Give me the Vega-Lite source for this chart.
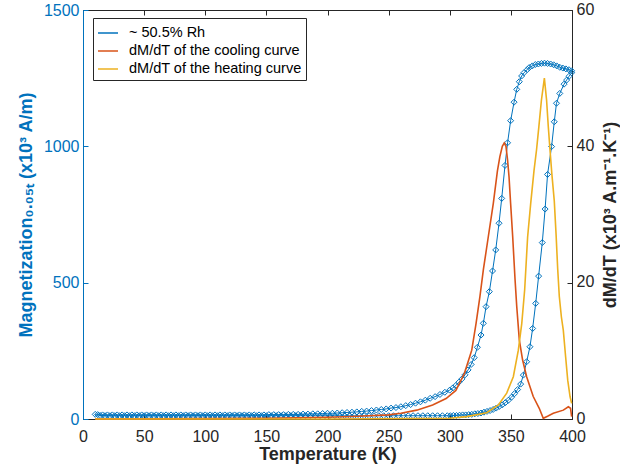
{
  "$schema": "https://vega.github.io/schema/vega-lite/v6.json",
  "width": 489,
  "height": 409,
  "autosize": {"type": "none"},
  "padding": {"left": 83, "top": 10, "right": 48, "bottom": 47},
  "config": {
    "font": "Liberation Sans",
    "view": {"stroke": "#262626", "strokeWidth": 1},
    "axis": {
      "labelFont": "Liberation Sans",
      "titleFont": "Liberation Sans",
      "labelFontSize": 16,
      "titleFontSize": 18,
      "titleFontWeight": "bold",
      "grid": false,
      "tickSize": -5,
      "labelPadding": 9,
      "labelFlush": false,
      "format": "d",
      "domainColor": "#262626",
      "tickColor": "#262626",
      "labelColor": "#262626",
      "titleColor": "#262626"
    }
  },
  "datasets": {
    "mag": [
      {"T":10,"M":17,"o":10},{"T":14,"M":13,"o":14},{"T":18,"M":12,"o":18},{"T":22,"M":12,"o":22},{"T":26,"M":12,"o":26},{"T":30,"M":12,"o":30},{"T":34,"M":12,"o":34},{"T":38,"M":12,"o":38},{"T":42,"M":12,"o":42},{"T":46,"M":12,"o":46},{"T":50,"M":12,"o":50},{"T":54,"M":12,"o":54},{"T":58,"M":12,"o":58},{"T":62,"M":12,"o":62},{"T":66,"M":12,"o":66},{"T":70,"M":12,"o":70},{"T":74,"M":12,"o":74},{"T":78,"M":12,"o":78},{"T":82,"M":12,"o":82},{"T":86,"M":12,"o":86},{"T":90,"M":12,"o":90},{"T":94,"M":12,"o":94},{"T":98,"M":12,"o":98},{"T":102,"M":12,"o":102},{"T":106,"M":12,"o":106},{"T":110,"M":12,"o":110},{"T":114,"M":12,"o":114},{"T":118,"M":12,"o":118},{"T":122,"M":12,"o":122},{"T":126,"M":12,"o":126},{"T":130,"M":12,"o":130},{"T":134,"M":12,"o":134},{"T":138,"M":12,"o":138},{"T":142,"M":12,"o":142},{"T":146,"M":12,"o":146},{"T":150,"M":12,"o":150},{"T":154,"M":12,"o":154},{"T":158,"M":12,"o":158},{"T":162,"M":12,"o":162},{"T":166,"M":12,"o":166},{"T":170,"M":12,"o":170},{"T":174,"M":12,"o":174},{"T":178,"M":12,"o":178},{"T":182,"M":12,"o":182},{"T":186,"M":12,"o":186},{"T":190,"M":12,"o":190},{"T":194,"M":12,"o":194},{"T":198,"M":12,"o":198},{"T":202,"M":12,"o":202},{"T":206,"M":12,"o":206},{"T":210,"M":12,"o":210},{"T":214,"M":12,"o":214},{"T":218,"M":12,"o":218},{"T":222,"M":12,"o":222},{"T":226,"M":12,"o":226},{"T":230,"M":12,"o":230},{"T":234,"M":12,"o":234},{"T":238,"M":12,"o":238},{"T":242,"M":12,"o":242},{"T":246,"M":12,"o":246},{"T":250,"M":12,"o":250},{"T":254,"M":12,"o":254},{"T":258,"M":12,"o":258},{"T":262,"M":12,"o":262},{"T":266,"M":12,"o":266},{"T":270,"M":12,"o":270},{"T":274,"M":12,"o":274},{"T":278,"M":12,"o":278},{"T":282,"M":12,"o":282},{"T":286,"M":12,"o":286},{"T":290,"M":12,"o":290},{"T":294,"M":12,"o":294},{"T":298,"M":12,"o":298},
      {"T":300.5,"M":12,"o":300.5},{"T":303,"M":13,"o":303},{"T":305.5,"M":13,"o":305.5},{"T":308,"M":14,"o":308},{"T":310.5,"M":15,"o":310.5},{"T":313,"M":15,"o":313},{"T":315.5,"M":16,"o":315.5},{"T":318,"M":17,"o":318},{"T":320.5,"M":19,"o":320.5},{"T":323,"M":20,"o":323},{"T":325.5,"M":22,"o":325.5},{"T":328,"M":25,"o":328},{"T":330.5,"M":28,"o":330.5},{"T":333,"M":31,"o":333},{"T":335.5,"M":35,"o":335.5},{"T":338,"M":40,"o":338},{"T":340.5,"M":46,"o":340.5},{"T":343,"M":52,"o":343},{"T":345.5,"M":60,"o":345.5},{"T":348,"M":69,"o":348},{"T":350.5,"M":80,"o":350.5},{"T":353,"M":93,"o":353},{"T":355.5,"M":108,"o":355.5},{"T":358,"M":128,"o":358},{"T":360.2,"M":161,"o":360.2},{"T":362.9,"M":210,"o":362.9},{"T":365.6,"M":265,"o":365.6},{"T":367.8,"M":332,"o":367.8},{"T":370.3,"M":424,"o":370.3},{"T":372.7,"M":524,"o":372.7},{"T":375.7,"M":647,"o":375.7},{"T":378,"M":770,"o":378},{"T":380,"M":897,"o":380},{"T":383.3,"M":999,"o":383.3},{"T":385.5,"M":1090,"o":385.5},{"T":387.3,"M":1158,"o":387.3},{"T":390,"M":1194,"o":390},{"T":393.5,"M":1228,"o":393.5},{"T":395.6,"M":1243,"o":395.6},{"T":397.6,"M":1257,"o":397.6},{"T":399.7,"M":1270,"o":399.7},
      {"T":399.7,"M":1277,"o":401},{"T":397.5,"M":1281,"o":403.5},{"T":395,"M":1284,"o":406},{"T":392.5,"M":1287,"o":408.5},{"T":390,"M":1290,"o":411},{"T":387.5,"M":1295,"o":413.5},{"T":385,"M":1299,"o":416},{"T":382.5,"M":1302,"o":418.5},{"T":380,"M":1304,"o":421},{"T":377.5,"M":1305,"o":423.5},{"T":375,"M":1304,"o":426},{"T":372.5,"M":1302,"o":428.5},{"T":370,"M":1300,"o":431},{"T":367.5,"M":1295,"o":433.5},{"T":365,"M":1289,"o":436},{"T":363.5,"M":1282,"o":437.5},{"T":360.7,"M":1270,"o":440.3},{"T":358.8,"M":1258,"o":442.2},{"T":356.9,"M":1237,"o":444.1},{"T":354.8,"M":1209,"o":446.2},{"T":352.6,"M":1162,"o":448.4},{"T":349.8,"M":1094,"o":451.2},{"T":347.3,"M":1013,"o":453.7},{"T":345.2,"M":930,"o":455.8},{"T":342.5,"M":809,"o":458.5},{"T":340.3,"M":718,"o":460.7},{"T":337.6,"M":620,"o":463.4},{"T":335,"M":543,"o":466},{"T":332.4,"M":467,"o":468.6},{"T":329.7,"M":412,"o":471.3},{"T":327.5,"M":351,"o":473.5},{"T":325.6,"M":308,"o":475.4},{"T":322.6,"M":263,"o":478.4},{"T":320,"M":225,"o":481},{"T":317.5,"M":200,"o":483.5},{"T":315,"M":180,"o":486},{"T":312.5,"M":162,"o":488.5},{"T":310,"M":147,"o":491},{"T":307.5,"M":135,"o":493.5},{"T":305,"M":123,"o":496},{"T":302.5,"M":114,"o":498.5},{"T":300,"M":106,"o":501},
      {"T":296,"M":98,"o":505},{"T":292,"M":90,"o":509},{"T":288,"M":82,"o":513},{"T":284,"M":76,"o":517},{"T":280,"M":69,"o":521},{"T":276,"M":63,"o":525},{"T":272,"M":58,"o":529},{"T":268,"M":53,"o":533},{"T":264,"M":49,"o":537},{"T":260,"M":45,"o":541},{"T":256,"M":42,"o":545},{"T":252,"M":40,"o":549},{"T":248,"M":37,"o":553},{"T":244,"M":35,"o":557},{"T":240,"M":33,"o":561},{"T":236,"M":31,"o":565},{"T":232,"M":29,"o":569},{"T":228,"M":28,"o":573},{"T":224,"M":26,"o":577},{"T":220,"M":25,"o":581},{"T":216,"M":24,"o":585},{"T":212,"M":23,"o":589},{"T":208,"M":22,"o":593},{"T":204,"M":21,"o":597},{"T":200,"M":21,"o":601},{"T":196,"M":20,"o":605},{"T":192,"M":19,"o":609},{"T":188,"M":19,"o":613},{"T":184,"M":18,"o":617},{"T":180,"M":18,"o":621},{"T":176,"M":17,"o":625},{"T":172,"M":17,"o":629},{"T":168,"M":17,"o":633},{"T":164,"M":16,"o":637},{"T":160,"M":16,"o":641},{"T":156,"M":16,"o":645},{"T":152,"M":16,"o":649},{"T":148,"M":15,"o":653},{"T":144,"M":15,"o":657},{"T":140,"M":15,"o":661},{"T":136,"M":15,"o":665},{"T":132,"M":15,"o":669},{"T":128,"M":15,"o":673},{"T":124,"M":15,"o":677},{"T":120,"M":15,"o":681},{"T":116,"M":15,"o":685},{"T":112,"M":15,"o":689},{"T":108,"M":15,"o":693},{"T":104,"M":15,"o":697},{"T":100,"M":15,"o":701},{"T":96,"M":15,"o":705},{"T":92,"M":15,"o":709},{"T":88,"M":15,"o":713},{"T":84,"M":15,"o":717},{"T":80,"M":15,"o":721},{"T":76,"M":15,"o":725},{"T":72,"M":15,"o":729},{"T":68,"M":15,"o":733},{"T":64,"M":15,"o":737},{"T":60,"M":15,"o":741},{"T":56,"M":15,"o":745},{"T":52,"M":15,"o":749},{"T":48,"M":15,"o":753},{"T":44,"M":15,"o":757},{"T":40,"M":15,"o":761},{"T":36,"M":15,"o":765},{"T":32,"M":15,"o":769},{"T":28,"M":15,"o":773},{"T":24,"M":15,"o":777},{"T":20,"M":15,"o":781},{"T":16,"M":15,"o":785},{"T":12,"M":16,"o":789}
    ],
    "dmdt": [
      {"T":10,"D":0,"c":"dM/dT of the cooling curve"},{"T":100,"D":0.05,"c":"dM/dT of the cooling curve"},{"T":150,"D":0.1,"c":"dM/dT of the cooling curve"},{"T":200,"D":0.25,"c":"dM/dT of the cooling curve"},{"T":225,"D":0.4,"c":"dM/dT of the cooling curve"},{"T":250,"D":0.6,"c":"dM/dT of the cooling curve"},{"T":260,"D":0.85,"c":"dM/dT of the cooling curve"},{"T":273,"D":1.3,"c":"dM/dT of the cooling curve"},{"T":286,"D":2.05,"c":"dM/dT of the cooling curve"},{"T":297,"D":3.0,"c":"dM/dT of the cooling curve"},{"T":305,"D":4.2,"c":"dM/dT of the cooling curve"},{"T":312,"D":6.7,"c":"dM/dT of the cooling curve"},{"T":318,"D":10.1,"c":"dM/dT of the cooling curve"},{"T":321.5,"D":14,"c":"dM/dT of the cooling curve"},{"T":324.7,"D":18,"c":"dM/dT of the cooling curve"},{"T":327.5,"D":21.9,"c":"dM/dT of the cooling curve"},{"T":331.5,"D":26.7,"c":"dM/dT of the cooling curve"},{"T":335.6,"D":31.6,"c":"dM/dT of the cooling curve"},{"T":339,"D":36.4,"c":"dM/dT of the cooling curve"},{"T":341,"D":38.5,"c":"dM/dT of the cooling curve"},{"T":343,"D":40,"c":"dM/dT of the cooling curve"},{"T":344.6,"D":40.5,"c":"dM/dT of the cooling curve"},{"T":346,"D":40,"c":"dM/dT of the cooling curve"},{"T":347.3,"D":38,"c":"dM/dT of the cooling curve"},{"T":348.5,"D":35.5,"c":"dM/dT of the cooling curve"},{"T":349.8,"D":31.6,"c":"dM/dT of the cooling curve"},{"T":351.5,"D":26.7,"c":"dM/dT of the cooling curve"},{"T":353.4,"D":20.5,"c":"dM/dT of the cooling curve"},{"T":354.8,"D":16.5,"c":"dM/dT of the cooling curve"},{"T":356.9,"D":11.6,"c":"dM/dT of the cooling curve"},{"T":359.6,"D":8.65,"c":"dM/dT of the cooling curve"},{"T":362.9,"D":6.2,"c":"dM/dT of the cooling curve"},{"T":368.3,"D":3.3,"c":"dM/dT of the cooling curve"},{"T":373.2,"D":1.57,"c":"dM/dT of the cooling curve"},{"T":376.5,"D":0.1,"c":"dM/dT of the cooling curve"},{"T":380,"D":0.4,"c":"dM/dT of the cooling curve"},{"T":384.7,"D":0.83,"c":"dM/dT of the cooling curve"},{"T":392.9,"D":1.3,"c":"dM/dT of the cooling curve"},{"T":397,"D":1.8,"c":"dM/dT of the cooling curve"},{"T":398.8,"D":1.57,"c":"dM/dT of the cooling curve"},{"T":399.7,"D":0.35,"c":"dM/dT of the cooling curve"},
      {"T":10,"D":0,"c":"dM/dT of the heating curve"},{"T":100,"D":0,"c":"dM/dT of the heating curve"},{"T":200,"D":0,"c":"dM/dT of the heating curve"},{"T":300,"D":0.1,"c":"dM/dT of the heating curve"},{"T":313.8,"D":0.35,"c":"dM/dT of the heating curve"},{"T":330.2,"D":0.93,"c":"dM/dT of the heating curve"},{"T":339.8,"D":2.05,"c":"dM/dT of the heating curve"},{"T":346.6,"D":3.8,"c":"dM/dT of the heating curve"},{"T":352,"D":6.2,"c":"dM/dT of the heating curve"},{"T":356.1,"D":10.1,"c":"dM/dT of the heating curve"},{"T":358.9,"D":14,"c":"dM/dT of the heating curve"},{"T":361.3,"D":19,"c":"dM/dT of the heating curve"},{"T":363.7,"D":26.7,"c":"dM/dT of the heating curve"},{"T":366.2,"D":31.6,"c":"dM/dT of the heating curve"},{"T":368.9,"D":36.4,"c":"dM/dT of the heating curve"},{"T":371,"D":39.5,"c":"dM/dT of the heating curve"},{"T":372.9,"D":42.9,"c":"dM/dT of the heating curve"},{"T":375,"D":46.8,"c":"dM/dT of the heating curve"},{"T":377.4,"D":50,"c":"dM/dT of the heating curve"},{"T":379.2,"D":46.8,"c":"dM/dT of the heating curve"},{"T":380.6,"D":42.9,"c":"dM/dT of the heating curve"},{"T":382,"D":39.5,"c":"dM/dT of the heating curve"},{"T":383.5,"D":36,"c":"dM/dT of the heating curve"},{"T":385.5,"D":32,"c":"dM/dT of the heating curve"},{"T":387,"D":27,"c":"dM/dT of the heating curve"},{"T":388.3,"D":22,"c":"dM/dT of the heating curve"},{"T":389.6,"D":18,"c":"dM/dT of the heating curve"},{"T":391.3,"D":15,"c":"dM/dT of the heating curve"},{"T":392.9,"D":13,"c":"dM/dT of the heating curve"},{"T":394.8,"D":9.1,"c":"dM/dT of the heating curve"},{"T":396.5,"D":5.7,"c":"dM/dT of the heating curve"},{"T":398.4,"D":3.3,"c":"dM/dT of the heating curve"},{"T":399.7,"D":2.3,"c":"dM/dT of the heating curve"}
    ]
  },
  "layer": [
    {
      "data": {"name": "mag"},
      "encoding": {
        "x": {"field": "T", "type": "quantitative", "scale": {"domain": [0, 400], "nice": false},
              "axis": {"orient": "bottom", "title": "Temperature (K)", "values": [0,50,100,150,200,250,300,350,400], "titlePadding": 1, "labelPadding": 14}},
        "y": {"field": "M", "type": "quantitative", "scale": {"domain": [0, 1500], "nice": false},
              "axis": {"orient": "left", "title": "Magnetization₀.₀₅ₜ (x10³ A/m)", "values": [0,500,1000,1500],
                       "domainColor": "#0072BD", "tickColor": "#0072BD", "labelColor": "#0072BD", "titleColor": "#0072BD", "titlePadding": 8}},
        "order": {"field": "o", "type": "quantitative"},
        "color": {"datum": "~ 50.5% Rh"}
      },
      "layer": [
        {"mark": {"type": "line", "strokeWidth": 1}},
        {"mark": {"type": "point", "shape": "diamond", "size": 36, "filled": false, "strokeWidth": 1, "opacity": 1}}
      ]
    },
    {
      "data": {"name": "dmdt"},
      "mark": {"type": "line", "strokeWidth": 1.6},
      "encoding": {
        "x": {"field": "T", "type": "quantitative",
              "axis": {"orient": "top", "labels": false, "title": null, "domain": false, "values": [0,50,100,150,200,250,300,350,400]}},
        "y": {"field": "D", "type": "quantitative", "scale": {"domain": [0, 60], "nice": false},
              "axis": {"orient": "right", "title": "dM/dT (x10³ A.m⁻¹.K⁻¹)", "values": [0,20,40,60], "titleAngle": 270, "titleBaseline": "top", "titlePadding": 8, "labelOffset": -1}},
        "color": {"field": "c", "type": "nominal",
                  "scale": {"domain": ["~ 50.5% Rh", "dM/dT of the cooling curve", "dM/dT of the heating curve"], "range": ["#0072BD", "#D95319", "#EDB120"]},
                  "legend": {"orient": "none", "legendX": 10, "legendY": 8, "title": null, "symbolType": "stroke", "symbolSize": 400, "symbolStrokeWidth": 1.5,
                             "labelFontSize": 14.5, "labelFont": "Liberation Sans", "labelColor": "#000000", "labelLimit": 400, "strokeColor": "#262626", "fillColor": "white", "padding": 4, "rowPadding": -3, "labelOffset": 10}}
      }
    }
  ],
  "resolve": {"scale": {"y": "independent"}}
}
